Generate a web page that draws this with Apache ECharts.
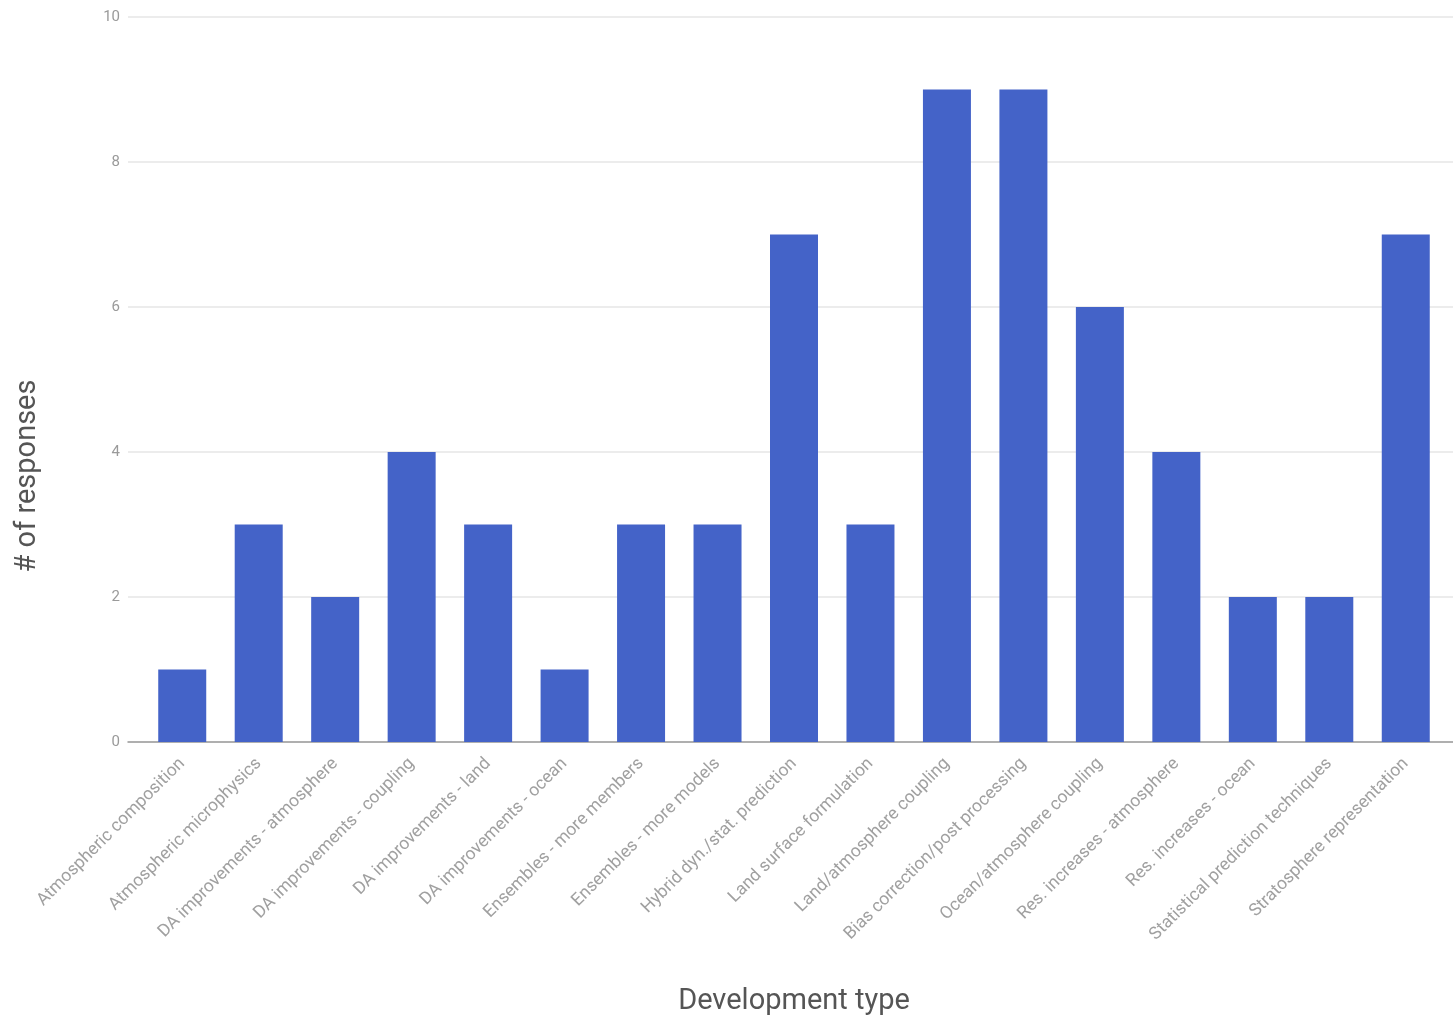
<!DOCTYPE html>
<html><head><meta charset="utf-8">
<script src="https://cdn.jsdelivr.net/npm/echarts@6/dist/echarts.min.js"></script>
<style>html,body{margin:0;padding:0;background:#fff;overflow:hidden}#c{width:1453px;height:1021px}</style>
</head><body><div id="c"></div>
<script>
const categories = [
  "Atmospheric composition",
  "Atmospheric microphysics",
  "DA improvements - atmosphere",
  "DA improvements - coupling",
  "DA improvements - land",
  "DA improvements - ocean",
  "Ensembles - more members",
  "Ensembles - more models",
  "Hybrid dyn./stat. prediction",
  "Land surface formulation",
  "Land/atmosphere coupling",
  "Bias correction/post processing",
  "Ocean/atmosphere coupling",
  "Res. increases - atmosphere",
  "Res. increases - ocean",
  "Statistical prediction techniques",
  "Stratosphere representation"
];
const responses = [1, 3, 2, 4, 3, 1, 3, 3, 7, 3, 9, 9, 6, 4, 2, 2, 7];
const yTicks = [0, 2, 4, 6, 8, 10];
const yTitle = '# of responses';
const xTitle = 'Development type';

const chart = echarts.init(document.getElementById('c'));
chart.setOption({
  animation: false,
  grid: [
    { left: 128, right: 0, top: 17, height: 725, outerBoundsMode: 'none', containLabel: false },
    { left: 144, right: 9, top: 17, height: 725, outerBoundsMode: 'none', containLabel: false }
  ],
  xAxis: [
    {
      gridIndex: 0, type: 'category', data: categories, show: true,
      axisLine: { lineStyle: { color: '#9a9a9a', width: 1.5 } },
      axisTick: { show: false }, axisLabel: { show: false }, splitLine: { show: false }
    },
    {
      gridIndex: 1, type: 'category', data: categories,
      axisLine: { show: false }, axisTick: { show: false },
      axisLabel: { rotate: 45, interval: 0, fontSize: 17.5, color: '#a0a0a0', fontFamily: 'Roboto', margin: 19 }
    }
  ],
  yAxis: [
    {
      gridIndex: 0, type: 'value', min: 0, max: 10, interval: 2,
      axisLine: { show: false }, axisTick: { show: false },
      axisLabel: { fontSize: 15, color: '#9a9a9a', fontFamily: 'Roboto', margin: 8,
        formatter: v => yTicks.includes(v) ? String(v) : '' },
      splitLine: { lineStyle: { color: '#e6e6e6', width: 1.5 } }
    },
    {
      gridIndex: 1, type: 'value', min: 0, max: 10, interval: 2,
      axisLine: { show: false }, axisTick: { show: false },
      axisLabel: { show: false }, splitLine: { show: false }
    }
  ],
  graphic: [
    {
      type: 'text', x: 28, y: 476, rotation: Math.PI / 2,
      style: { text: yTitle, fontSize: 29, fill: '#555', fontFamily: 'Roboto',
        align: 'center', verticalAlign: 'middle' }
    },
    {
      type: 'text', x: 794, y: 1002,
      style: { text: xTitle, fontSize: 29, fill: '#555', fontFamily: 'Roboto',
        align: 'center', verticalAlign: 'middle' }
    }
  ],
  series: [{
    type: 'bar', xAxisIndex: 1, yAxisIndex: 1,
    data: responses,
    barWidth: 48,
    itemStyle: { color: '#4463c8' }
  }]
});
</script></body></html>
